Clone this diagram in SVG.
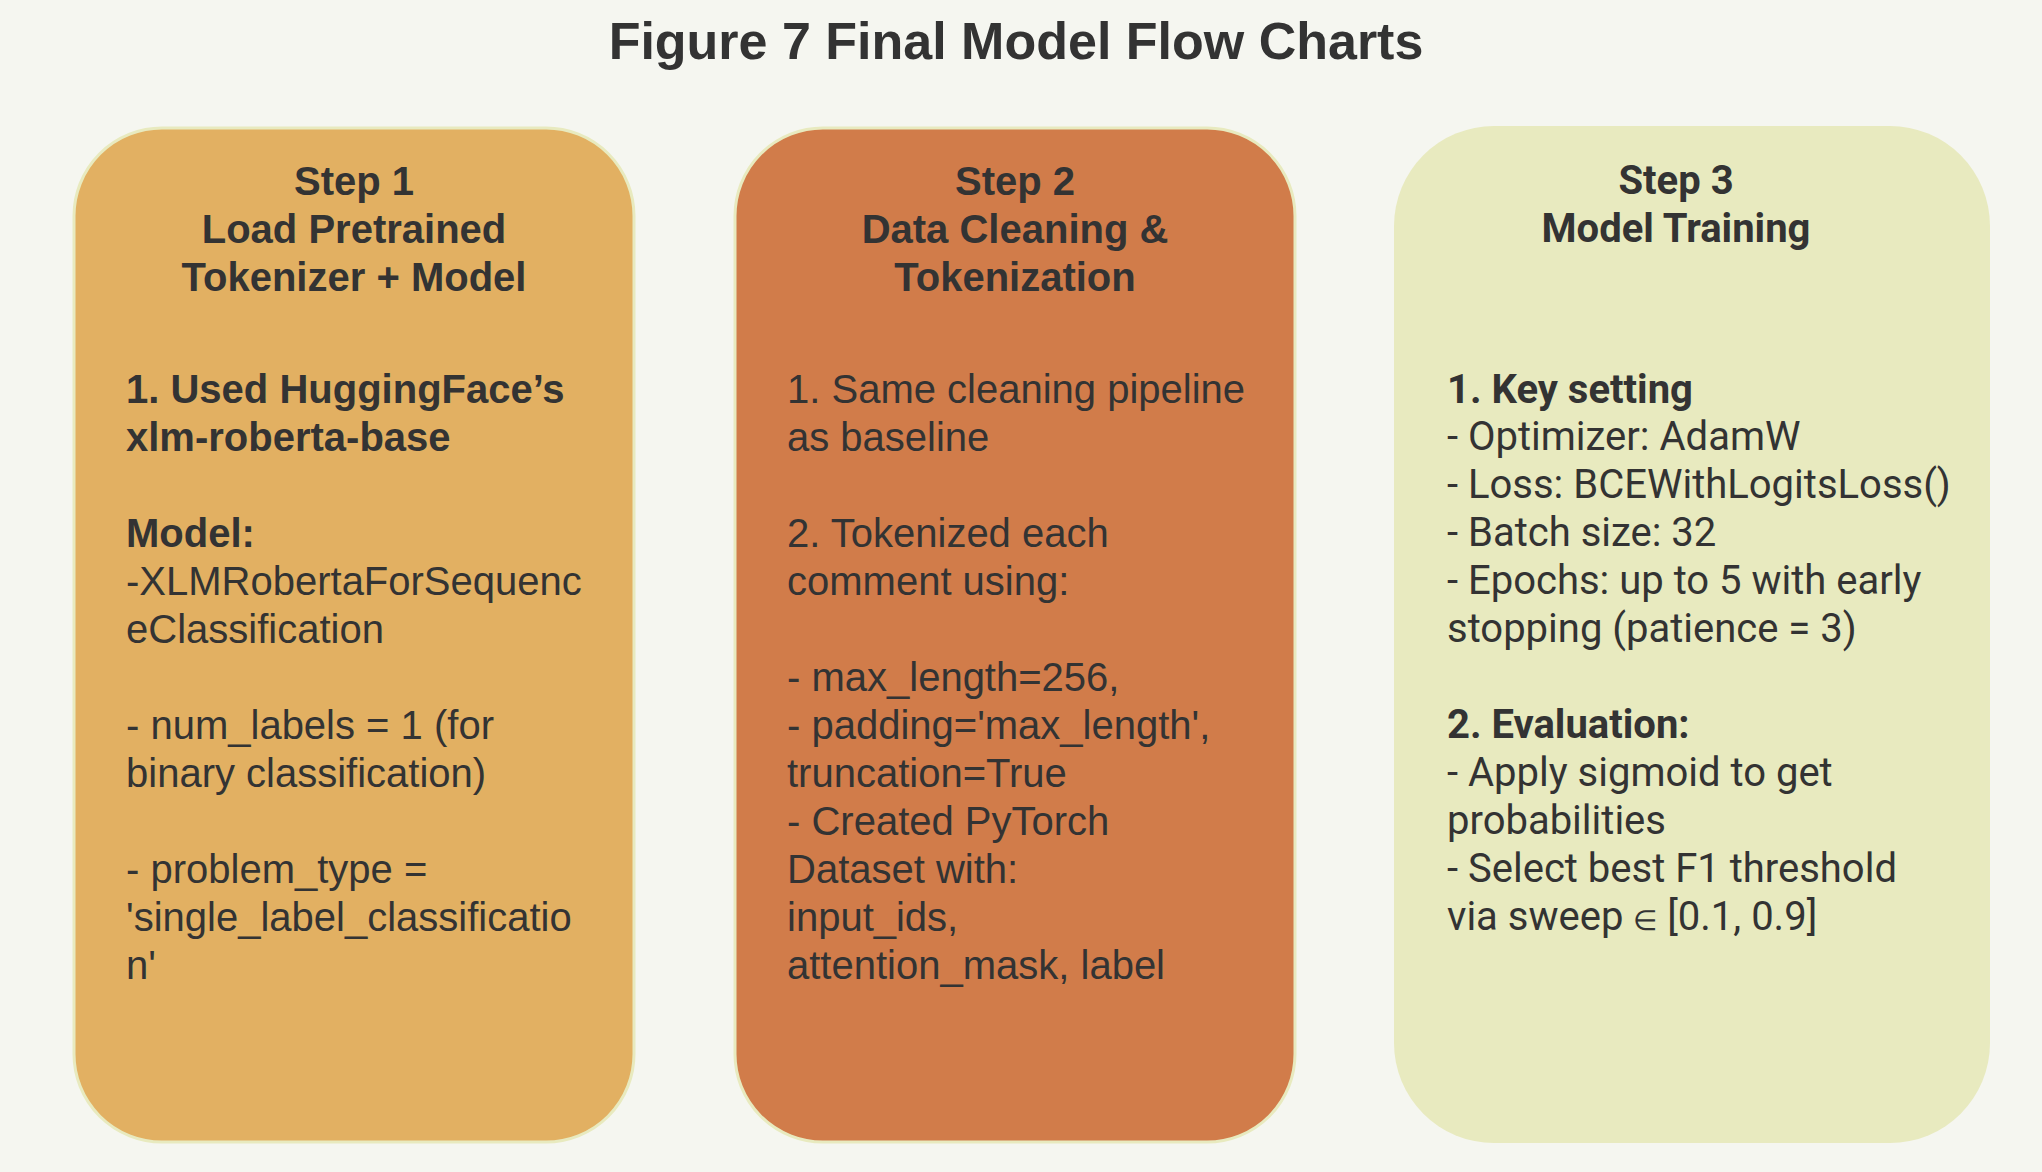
<svg xmlns="http://www.w3.org/2000/svg" width="2042" height="1172" viewBox="0 0 2042 1172">
<style>
.t{fill:#333333;font-family:"Liberation Sans",Arial,sans-serif;font-size:40px}
.r{fill:#333333;font-family:Roboto,"Liberation Sans",sans-serif;font-size:40px}
.b{font-weight:bold}
.h{text-anchor:middle;font-weight:bold}
</style>
<rect x="0" y="0" width="2042" height="1172" fill="#f5f6f0"/>
<text x="1016" y="59" text-anchor="middle" font-family="Liberation Sans, Arial, sans-serif" font-weight="bold" font-size="52" fill="#333333">Figure 7 Final Model Flow Charts</text>
<g id="connectors"></g>
<g id="step1">
<rect x="74" y="128" width="560" height="1014" rx="88" ry="88" fill="#e2b062" stroke="#e8eabf" stroke-width="3"/>
<text class="t h" x="354" y="195">Step 1</text>
<text class="t h" x="354" y="243">Load Pretrained</text>
<text class="t h" x="354" y="291">Tokenizer + Model</text>
<text class="t b" x="126" y="403">1. Used HuggingFace’s</text>
<text class="t b" x="126" y="451">xlm-roberta-base</text>
<text class="t b" x="126" y="547">Model:</text>
<text class="t" x="126" y="595">-XLMRobertaForSequenc</text>
<text class="t" x="126" y="643">eClassification</text>
<text class="t" x="126" y="739">- num_labels = 1 (for</text>
<text class="t" x="126" y="787">binary classification)</text>
<text class="t" x="126" y="883">- problem_type =</text>
<text class="t" x="126" y="931">'single_label_classificatio</text>
<text class="t" x="126" y="979">n'</text>
</g>
<g id="step2">
<rect x="735" y="128" width="560" height="1014" rx="88" ry="88" fill="#d17c4a" stroke="#e8eabf" stroke-width="3"/>
<text class="t h" x="1015" y="195">Step 2</text>
<text class="t h" x="1015" y="243">Data Cleaning &amp;</text>
<text class="t h" x="1015" y="291">Tokenization</text>
<text class="t" x="787" y="403">1. Same cleaning pipeline</text>
<text class="t" x="787" y="451">as baseline</text>
<text class="t" x="787" y="547">2. Tokenized each</text>
<text class="t" x="787" y="595">comment using:</text>
<text class="t" x="787" y="691">- max_length=256,</text>
<text class="t" x="787" y="739">- padding='max_length',</text>
<text class="t" x="787" y="787">truncation=True</text>
<text class="t" x="787" y="835">- Created PyTorch</text>
<text class="t" x="787" y="883">Dataset with:</text>
<text class="t" x="787" y="931">input_ids,</text>
<text class="t" x="787" y="979">attention_mask, label</text>
</g>
<g id="step3">
<rect x="1394" y="126" width="596" height="1017" rx="100" ry="100" fill="#e8eabf"/>
<text class="r h" x="1676" y="194">Step 3</text>
<text class="r h" x="1676" y="242">Model Training</text>
<text class="r b" x="1447" y="403">1. Key setting</text>
<text class="r" x="1447" y="450">- Optimizer: AdamW</text>
<text class="r" x="1447" y="498">- Loss: BCEWithLogitsLoss()</text>
<text class="r" x="1447" y="546">- Batch size: 32</text>
<text class="r" x="1447" y="594">- Epochs: up to 5 with early</text>
<text class="r" x="1447" y="642">stopping (patience = 3)</text>
<text class="r b" x="1447" y="738">2. Evaluation:</text>
<text class="r" x="1447" y="786">- Apply sigmoid to get</text>
<text class="r" x="1447" y="834">probabilities</text>
<text class="r" x="1447" y="882">- Select best F1 threshold</text>
<text class="r" x="1447" y="930">via sweep <tspan font-size="28">∈</tspan> [0.1, 0.9]</text>
</g>
</svg>
